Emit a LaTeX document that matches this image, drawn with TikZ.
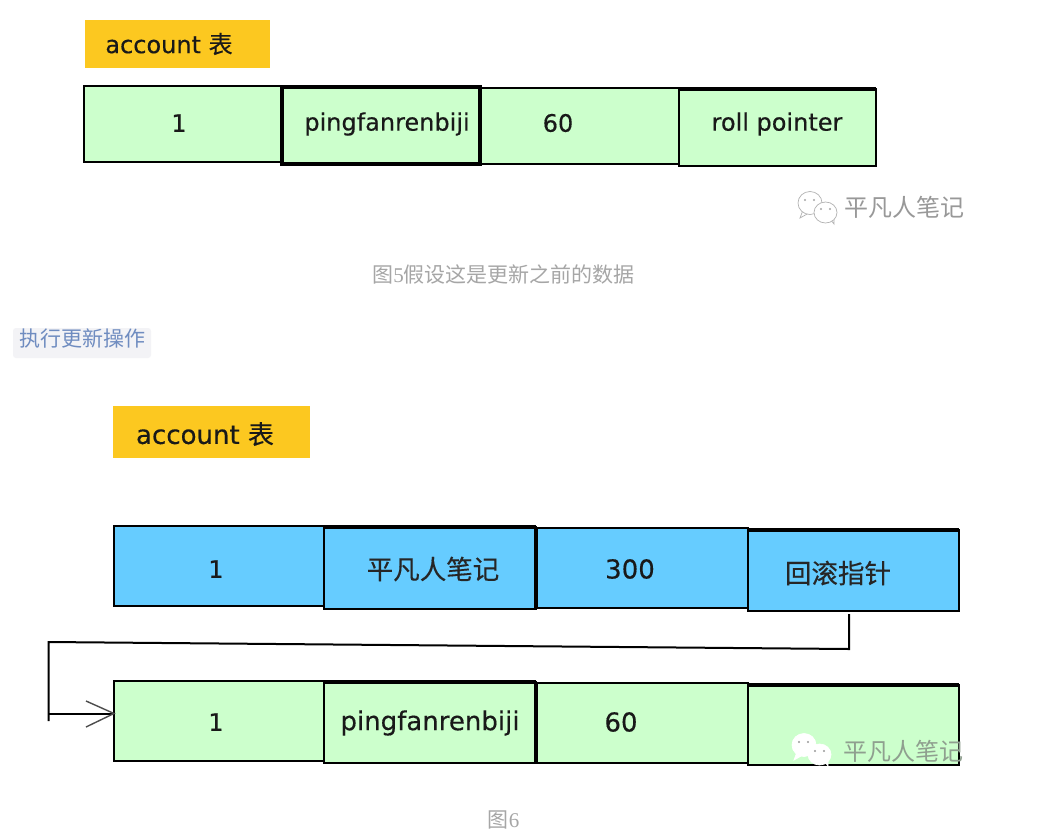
\documentclass[tikz,border=0pt]{standalone}
\usepackage{fontspec}
\setmainfont{DejaVu Sans}
\newfontfamily\cjkfont{Noto Sans CJK SC}
\newfontfamily\capdigit{Liberation Serif}
\definecolor{rowgreen}{HTML}{CCFFCC}
\definecolor{rowblue}{HTML}{66CCFF}
\definecolor{tagyellow}{HTML}{FCC820}
\definecolor{capgrey}{HTML}{A6A6A6}
\definecolor{linkblue}{HTML}{6F8CC0}
\definecolor{chipgrey}{HTML}{F3F3F6}
\definecolor{markgrey}{HTML}{989898}
\definecolor{markdim}{HTML}{8F9F8F}
\newcommand{\heavier}{\addfontfeature{FakeBold=0.35}}
\tikzset{
  x=1pt, y=-1pt,
  flat/.style={inner sep=0pt, outer sep=0pt},
  cellbox/.style={flat, draw=black, line width=2pt},
  heavybox/.style={flat, draw=black, line width=3.4pt},
  tagbox/.style={flat, fill=tagyellow},
  celltext/.style={flat, font=\heavier\fontsize{24}{26}\selectfont, text=black!90},
  bigtext/.style={flat, font=\heavier\fontsize{26}{28}\selectfont, text=black!90},
  cjktext/.style={flat, font=\cjkfont\heavier\fontsize{26.5}{28}\selectfont, text=black!85},
  captext/.style={flat, font=\cjkfont\fontsize{21}{24}\selectfont, text=capgrey},
  marktext/.style={flat, font=\cjkfont\fontsize{24}{26}\selectfont, text=markgrey},
  topbar/.style={line width=4pt, black},
  link/.style={line width=2pt, black},
}
% Box placed by its corners: name, style, left, top, right, bottom
\newcommand{\cornerbox}[6]{%
  \pgfmathsetmacro{\boxw}{#5-#3}%
  \pgfmathsetmacro{\boxh}{#6-#4}%
  \pgfmathsetmacro{\boxx}{(#3+#5)/2}%
  \pgfmathsetmacro{\boxy}{(#4+#6)/2}%
  \node[#2, minimum width=\boxw pt, minimum height=\boxh pt] (#1) at (\boxx,\boxy) {};%
}
% WeChat-style pair of speech bubbles: centre of the larger one, outline, eye colour
\newcommand{\bubblepair}[4]{%
  \begin{scope}[shift={(#1,#2)}]
    \filldraw[draw=#3, fill=white, line width=.7pt] (-7,7) -- (-10,15) -- (-1,10) -- cycle;
    \filldraw[draw=#3, fill=white, line width=.7pt] (0,0) ellipse [x radius=12, y radius=11.5];
    \filldraw[draw=#3, fill=white, line width=.7pt] (20,16) -- (24,21) -- (24,12) -- cycle;
    \filldraw[draw=#3, fill=white, line width=.7pt] (15.5,9.5) ellipse [x radius=11.5, y radius=10.5];
    \fill[#4] (-5,-3) circle (1.1) (4,-3) circle (1.1) (11,6) circle (1.1) (20,6) circle (1.1);
  \end{scope}}
\begin{document}
\begin{tikzpicture}
\useasboundingbox (0,0) rectangle (1060,836);
\fill[white] (0,0) rectangle (1060,836);

% Upper table: row before the update
\cornerbox{tagA}{tagbox}{85}{20}{270}{68}
\node[celltext] (tagAt) at (169,44) {account {\cjkfont\heavier 表}};
\cornerbox{a1}{cellbox, fill=rowgreen}{84}{86}{282}{162}
\cornerbox{a3}{cellbox, fill=rowgreen}{481}{88}{679}{164}
\cornerbox{a2}{heavybox, fill=rowgreen}{282}{87}{480}{164}
\cornerbox{a4}{cellbox, fill=rowgreen}{679}{89}{876}{166}
\draw[topbar] (a4.north west) -- (a4.north east);
\node[celltext] (a1t) at (179,123) {1};
\node[celltext] (a2t) at (387,124) {pingfanrenbiji};
\node[celltext] (a3t) at (558,123) {60};
\node[celltext] (a4t) at (777,124) {roll pointer};

% Watermark beside the upper table
\bubblepair{810}{203}{black!30}{black!35}
\node[marktext] (markA) at (904,207) {平凡人笔记};

\node[captext] (capA) at (503.5,274) {图{\capdigit 5}假设这是更新之前的数据};

% Action chip
\fill[chipgrey, rounded corners=3pt] (13,328) rectangle (151,358);
\node[captext, text=linkblue] (action) at (82.5,339) {执行更新操作};

% Lower table: updated row and its older version
\cornerbox{tagB}{tagbox}{113}{406}{310}{458}
\node[bigtext] (tagBt) at (205,434) {account {\cjkfont\heavier 表}};

\cornerbox{b1}{cellbox, fill=rowblue}{114}{526}{324}{606}
\cornerbox{b3}{cellbox, fill=rowblue}{537}{528}{748}{608}
\cornerbox{b2}{cellbox, fill=rowblue}{324}{527}{536}{609}
\cornerbox{b4}{cellbox, fill=rowblue}{748}{530}{959}{611}
\draw[topbar] (b2.north west) -- (b2.north east);
\draw[topbar] (b2.north east) -- (b2.south east);
\draw[topbar] (b4.north west) -- (b4.north east);
\node[celltext] (b1t) at (216,569) {1};
\node[cjktext] (b2t) at (433,569) {平凡人笔记};
\node[bigtext] (b3t) at (630,569) {300};
\node[cjktext] (b4t) at (838,573) {回滚指针};

\cornerbox{c1}{cellbox, fill=rowgreen}{114}{681}{324}{761}
\cornerbox{c3}{cellbox, fill=rowgreen}{537}{683}{748}{763}
\cornerbox{c2}{cellbox, fill=rowgreen}{324}{682}{536}{763}
\cornerbox{c4}{cellbox, fill=rowgreen}{748}{685}{959}{765}
\draw[topbar] (c2.north west) -- (c2.north east);
\draw[topbar] (c2.north east) -- (c2.south east);
\draw[topbar] (c4.north west) -- (c4.north east);
\node[celltext] (c1t) at (216,722) {1};
\node[bigtext] (c2t) at (430,723) {pingfanrenbiji};
\node[bigtext] (c3t) at (621,722) {60};

% Rollback pointer from the updated row to the older version
\coordinate (ptrStart) at (849,614);
\coordinate (ptrCorner) at (849,649);
\coordinate (ptrLeft) at (48.5,642);
\coordinate (ptrDrop) at (48.5,721);
\coordinate (ptrJoin) at (48.5,713.5);
\draw[link] (ptrStart) -- (ptrCorner) -- (ptrLeft) -- (ptrDrop);
\draw[link] (ptrJoin) -- (c1.west |- ptrJoin);
\draw[line width=1.4pt, black!70] (86,701) -- (c1.west |- ptrJoin) -- (86,727);

% Watermark over the lower table
\bubblepair{804}{745}{white}{black!40}
\node[marktext, text=markdim] (markB) at (903,751) {平凡人笔记};

\node[captext] (capB) at (503.5,820) {图{\capdigit 6}};
\end{tikzpicture}
\end{document}
